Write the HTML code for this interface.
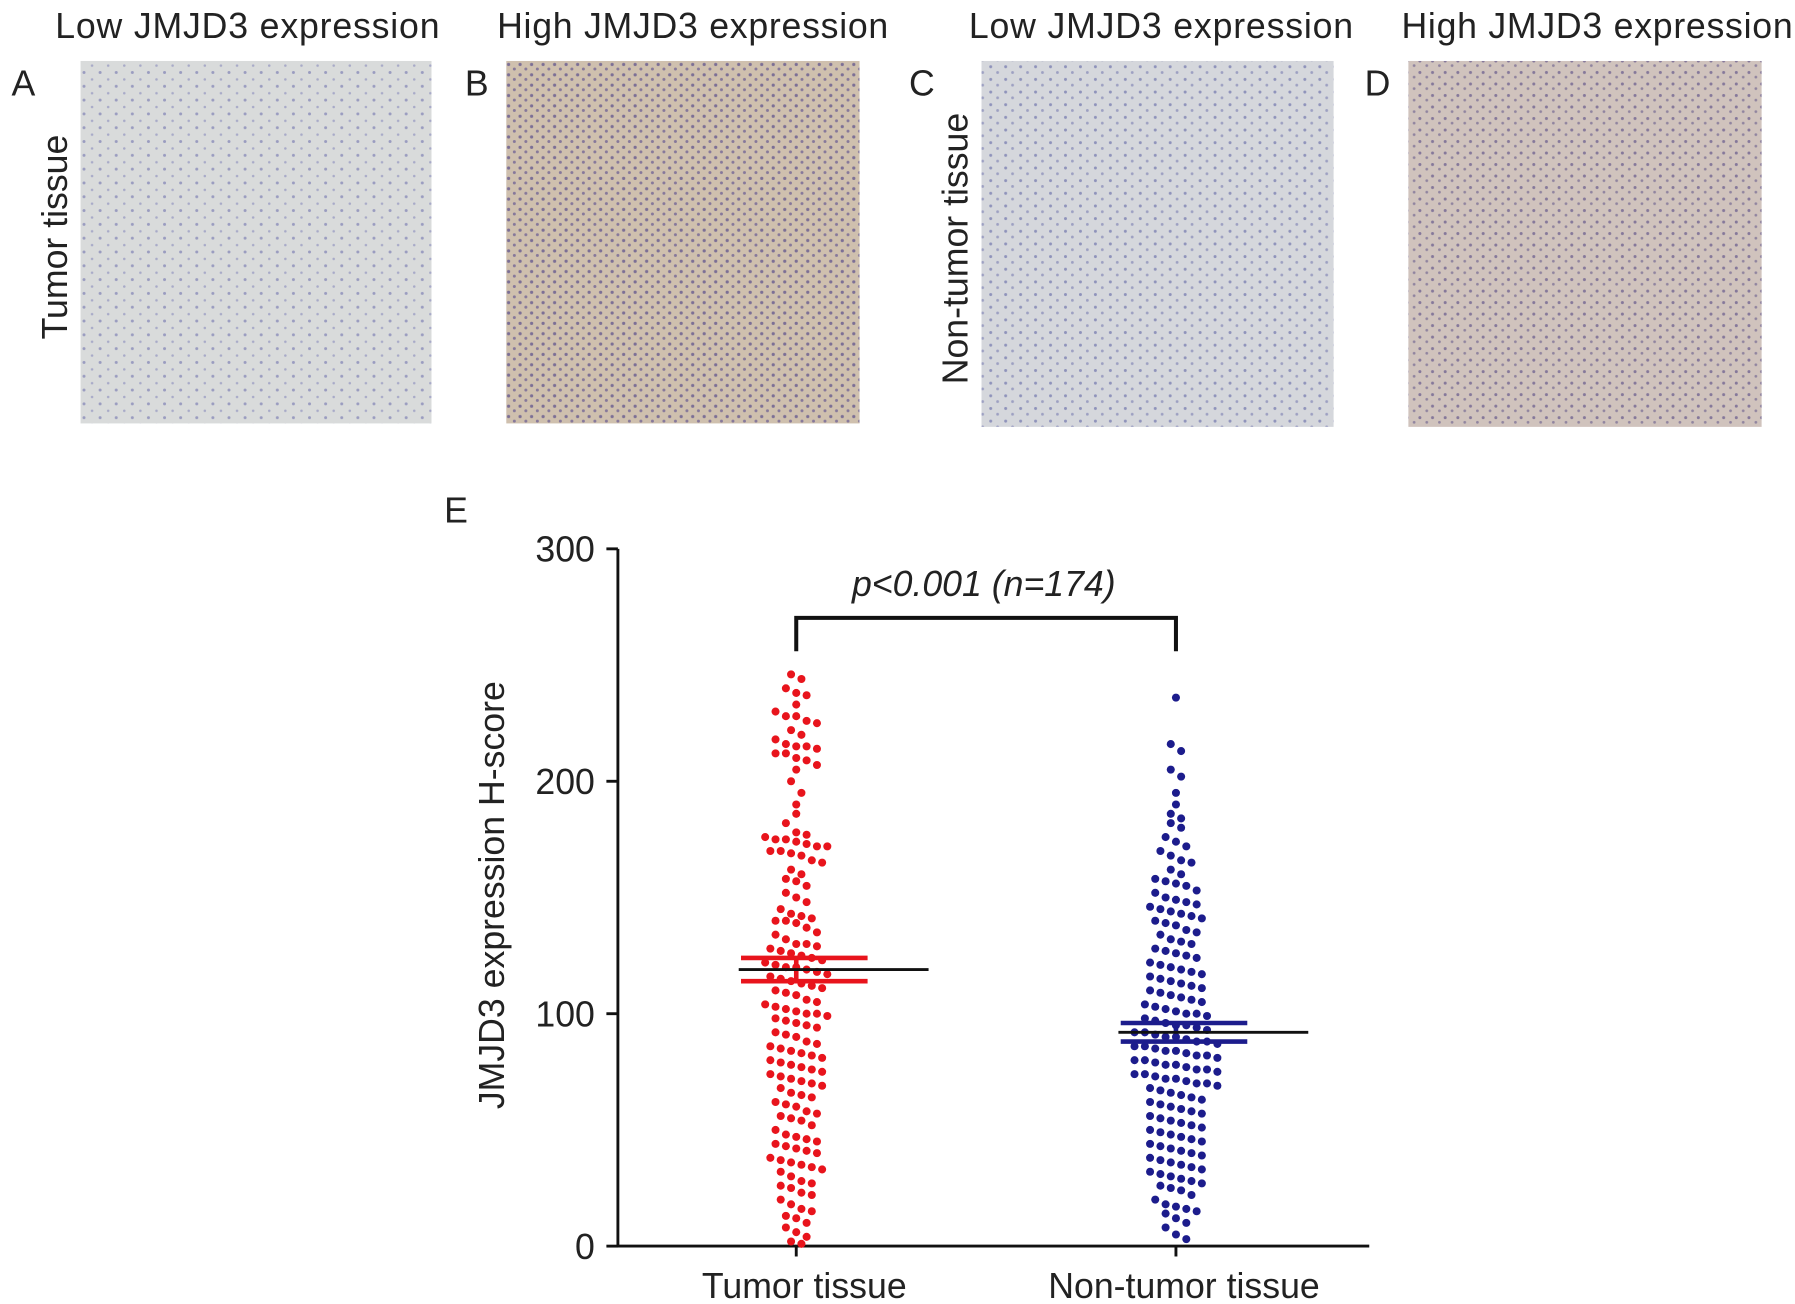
<!DOCTYPE html>
<html><head><meta charset="utf-8"><style>
html,body{margin:0;padding:0;background:#fff;}
svg{display:block;font-family:"Liberation Sans",sans-serif;}
</style></head><body>
<svg id="fig" width="1795" height="1304" viewBox="0 0 1560 1133.3">
<defs>
<pattern id="pa" width="14" height="12" patternUnits="userSpaceOnUse"><rect width="14" height="12" fill="#d9dbdb"/><circle cx="3" cy="3" r="1.3" fill="#9a9cc0"/><circle cx="10" cy="9" r="1.1" fill="#a8aac8"/></pattern>
<pattern id="pb" width="10" height="9" patternUnits="userSpaceOnUse"><rect width="10" height="9" fill="#cfc0ae"/><circle cx="2" cy="2" r="1.4" fill="#7c6f95"/><circle cx="7" cy="6" r="1.3" fill="#86789a"/></pattern>
<pattern id="pc" width="13" height="11" patternUnits="userSpaceOnUse"><rect width="13" height="11" fill="#d5d7dc"/><circle cx="3" cy="3" r="1.3" fill="#8f93bb"/><circle cx="9" cy="8" r="1.2" fill="#9da0c2"/></pattern>
<pattern id="pd" width="11" height="10" patternUnits="userSpaceOnUse"><rect width="11" height="10" fill="#d0c3bd"/><circle cx="2" cy="3" r="1.3" fill="#85789a"/><circle cx="8" cy="7" r="1.2" fill="#90849f"/></pattern>
</defs>
<g font-size="31" fill="#222">
<text x="215" y="33" text-anchor="middle" textLength="334">Low JMJD3 expression</text>
<text x="602" y="33" text-anchor="middle" textLength="340">High JMJD3 expression</text>
<text x="1009" y="33" text-anchor="middle" textLength="334">Low JMJD3 expression</text>
<text x="1388" y="33" text-anchor="middle" textLength="340">High JMJD3 expression</text>
<text x="10" y="83">A</text>
<text x="404" y="83">B</text>
<text x="790" y="83">C</text>
<text x="1186" y="83">D</text>
<text x="386" y="454">E</text>
<text transform="translate(58,206) rotate(-90)" text-anchor="middle">Tumor tissue</text>
<text transform="translate(841,216) rotate(-90)" text-anchor="middle">Non-tumor tissue</text>
</g>
<rect x="70" y="53" width="305" height="315" fill="url(#pa)"/>
<rect x="440" y="53" width="307" height="315" fill="url(#pb)"/>
<rect x="853" y="53" width="306" height="318" fill="url(#pc)"/>
<rect x="1224" y="53" width="307" height="318" fill="url(#pd)"/>
<g id="chart"></g>
</svg>
<script>
const categories=["Tumor tissue","Non-tumor tissue"];
const yTicks=[0,100,200,300];
const tumorValues=[246,244,240,238,237,233,230,228,228,226,225,222,220,218,216,215,215,214,212,212,210,209,207,205,200,195,190,186,182,178,177,176,175,175,174,173,172,172,170,170,169,168,166,165,162,160,158,157,155,152,150,148,145,143,142,141,140,140,139,137,135,134,132,130,130,129,128,127,126,125,124,123,122,121,120,120,119,118,117,116,115,114,113,112,111,110,109,108,106,105,104,103,102,101,100,100,99,98,97,96,95,94,92,91,90,88,87,86,85,84,83,82,81,80,79,78,77,76,75,74,73,72,71,70,69,68,66,65,64,62,61,60,58,57,56,55,54,52,50,48,47,46,45,44,43,42,41,40,38,37,36,35,34,33,32,30,28,27,26,25,23,22,20,18,16,15,13,12,10,8,6,4,2,1];
const nonTumorValues=[236,216,213,205,202,195,190,186,184,182,180,176,174,172,170,168,166,165,162,160,158,157,156,155,153,152,150,149,148,147,146,145,144,143,142,141,140,139,138,136,135,134,132,131,130,128,127,126,125,124,122,121,120,119,118,117,116,115,114,113,112,111,110,109,108,107,106,105,104,103,102,101,100,100,99,98,97,96,95,95,94,93,92,92,91,90,90,89,88,88,87,86,86,85,84,84,83,82,82,81,80,80,79,78,78,77,76,76,75,74,74,73,72,72,71,70,70,69,68,67,66,65,64,63,62,61,60,59,58,57,56,55,54,53,52,51,50,49,48,47,46,45,44,43,42,41,40,39,38,37,36,35,34,33,32,31,30,29,28,27,26,25,24,22,20,18,17,16,15,14,12,10,8,5,3];
const means=[119,92];
const sems=[5,4];
const series=[tumorValues,nonTumorValues];
const colors=["#e8141c","#1c1c8c"];
const NS="http://www.w3.org/2000/svg";
const g=document.getElementById('chart');
const x0=537,x1=1190,yTop=477,yBot=1083;
function yScale(v){return yBot-(v/300)*(yBot-yTop);}
const centers=[692,1022];
function xScale(i){return centers[i];}
function mk(tag,attrs,parent){const e=document.createElementNS(NS,tag);for(const k in attrs)e.setAttribute(k,attrs[k]);(parent||g).appendChild(e);return e;}
let ax=mk('line',{x1:x0,y1:yTop,x2:x0,y2:yBot+1,stroke:'#111','stroke-width':2.5});


let axx=mk('line',{x1:x0-1,y1:yBot,x2:x1,y2:yBot,stroke:'#111','stroke-width':2.5});


yTicks.forEach(t=>{
  const y=yScale(t);
  const tl=mk('line',{x1:x0-10,y1:y,x2:x0,y2:y,stroke:'#111','stroke-width':2.5});
  
  
  const tx=mk('text',{x:x0-20,y:y+11,'text-anchor':'end','font-size':31,fill:'#222'});
  tx.textContent=t;
  
  
});
categories.forEach((c,i)=>{
  const tl=mk('line',{x1:xScale(i),y1:yBot,x2:xScale(i),y2:yBot+9,stroke:'#111','stroke-width':2.5});
  
  
  const tx=mk('text',{x:xScale(i)+7,y:1128,'text-anchor':'middle','font-size':31,fill:'#222'});
  tx.textContent=c;
  
  
});
const yt=mk('text',{transform:'translate(438,778) rotate(-90)','text-anchor':'middle','font-size':31,fill:'#222'});
yt.textContent='JMJD3 expression H-score';


series.forEach((vals,i)=>{
  const bins={};
  vals.forEach(v=>{const b=Math.round(v/6);(bins[b]=bins[b]||[]).push(v);});
  Object.keys(bins).forEach(b=>{
    const arr=bins[b];
    arr.forEach((v,k)=>{
      const off=(k-(arr.length-1)/2)*9;
      const d=mk('circle',{cx:xScale(i)+off,cy:yScale(v),r:3.5,fill:colors[i]});
      
      
    });
  });
  [means[i]+sems[i],means[i]-sems[i]].forEach(v=>{
    const l=mk('line',{x1:xScale(i)-48,y1:yScale(v),x2:xScale(i)+62,y2:yScale(v),stroke:colors[i],'stroke-width':4});
    
    
  });
  const vl=mk('line',{x1:xScale(i),y1:yScale(means[i]+sems[i]),x2:xScale(i),y2:yScale(means[i]-sems[i]),stroke:colors[i],'stroke-width':4});
  
  
  const m=mk('line',{x1:xScale(i)-50,y1:yScale(means[i]),x2:xScale(i)+115,y2:yScale(means[i]),stroke:'#111','stroke-width':2.5});
  
  
});
const br=mk('path',{d:`M${xScale(0)} 566 V537 H${xScale(1)} V566`,fill:'none',stroke:'#111','stroke-width':3.5});


const pt=mk('text',{x:855,y:518,'text-anchor':'middle','font-size':31,'font-style':'italic',fill:'#222'});
pt.textContent='p<0.001 (n=174)';


</script>
</body></html>
